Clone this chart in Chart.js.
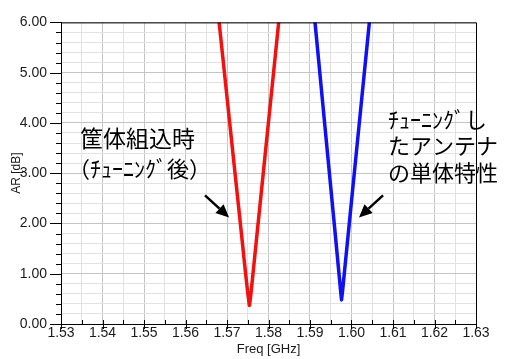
<!DOCTYPE html>
<html>
<head>
<meta charset="utf-8">
<script src="https://cdn.jsdelivr.net/npm/chart.js@4.4.1/dist/chart.umd.min.js"></script>
<style>
html,body{margin:0;padding:0;background:#fff;}
#wrap{width:525px;height:359px;position:relative;}
</style>
</head>
<body>
<div id="wrap"><canvas id="c" width="525" height="359"></canvas></div>
<script>
// ---- data ----
const redFreq = [1.5675, 1.5690, 1.5705, 1.5720, 1.5735, 1.5745, 1.5750, 1.5753, 1.5754, 1.5757, 1.5762, 1.5772, 1.5787, 1.5802, 1.5817, 1.5832];
const redAR   = [6.47,   5.30,   4.12,   2.95,   1.78,   0.99,   0.62,   0.42,   0.37,   0.55,   0.95,   1.76,   2.97,   4.18,   5.39,   6.60];
const blueFreq = [1.5905, 1.5915, 1.5930, 1.5945, 1.5960, 1.5970, 1.5974, 1.5976, 1.5979, 1.5985, 1.5995, 1.6010, 1.6025, 1.6040, 1.6052];
const blueAR   = [6.60,   5.75,   4.45,   3.15,   1.86,   0.99,   0.64,   0.48,   0.70,   1.20,   2.03,   3.27,   4.51,   5.75,   6.74];
const xTickLabels = ['1.53','1.54','1.55','1.56','1.57','1.58','1.59','1.60','1.61','1.62','1.63'];
const yTickLabels = ['0.00','1.00','2.00','3.00','4.00','5.00','6.00'];
const xTitle = 'Freq [GHz]';
const yTitle = 'AR [dB]';
// annotation texts (data coordinates: freq, AR)
const noteTexts = ['筐体組込時', '（ﾁｭｰﾆﾝｸﾞ後）', 'ﾁｭｰﾆﾝｸﾞし', 'たアンテナ', 'の単体特性'];
const noteX = [1.5346, 1.5317, 1.6088, 1.6088, 1.6088];
const noteY = [3.70, 3.09, 4.06, 3.54, 3.01];
// arrows: tail -> head
const arrowFrom = [[1.5647, 2.56], [1.6076, 2.56]];
const arrowTo   = [[1.5705, 2.12], [1.6018, 2.12]];

const isMajorX = v => Math.abs(v * 100 - Math.round(v * 100)) < 1e-6;
const isMajorY = v => Math.abs(v - Math.round(v)) < 1e-6;

const decorPlugin = {
  id: 'decor',
  afterDraw(chart) {
    const ctx = chart.ctx, a = chart.chartArea;
    const xs = chart.scales.x, ys = chart.scales.y;
    ctx.save();
    // top & right frame
    ctx.strokeStyle = '#000'; ctx.lineWidth = 1;
    ctx.beginPath();
    ctx.moveTo(a.left, a.top + 0.5); ctx.lineTo(a.right + 0.5, a.top + 0.5); ctx.lineTo(a.right + 0.5, a.bottom);
    ctx.stroke();
    // tick marks
    ctx.beginPath();
    xs.ticks.forEach(t => {
      const px = Math.round(xs.getPixelForValue(t.value)) + 0.5;
      if (isMajorX(t.value)) { ctx.moveTo(px, a.bottom - 4); ctx.lineTo(px, a.bottom + 5); }
      else { ctx.moveTo(px, a.bottom - 4); ctx.lineTo(px, a.bottom); }
    });
    ys.ticks.forEach(t => {
      const py = Math.round(ys.getPixelForValue(t.value)) + 0.5;
      if (isMajorY(t.value)) { ctx.moveTo(a.left - 11, py); ctx.lineTo(a.left, py); }
      else { ctx.moveTo(a.left - 5, py); ctx.lineTo(a.left, py); }
    });
    ctx.stroke();
    // annotation texts
    ctx.fillStyle = '#000';
    ctx.textBaseline = 'middle'; ctx.textAlign = 'left';
    noteTexts.forEach((s, i) => {
      ctx.font = (i === 0 ? '23px' : '22px') + ' "Noto Sans CJK JP"';
      ctx.fillText(s, xs.getPixelForValue(noteX[i]), ys.getPixelForValue(noteY[i]));
    });
    // arrows
    arrowFrom.forEach((f, i) => {
      const x1 = xs.getPixelForValue(f[0]), y1 = ys.getPixelForValue(f[1]);
      const x2 = xs.getPixelForValue(arrowTo[i][0]), y2 = ys.getPixelForValue(arrowTo[i][1]);
      const ang = Math.atan2(y2 - y1, x2 - x1);
      const hl = 13, hw = 6;
      const bx = x2 - hl * Math.cos(ang), by = y2 - hl * Math.sin(ang);
      ctx.strokeStyle = '#000'; ctx.lineWidth = 2.5;
      ctx.beginPath(); ctx.moveTo(x1, y1); ctx.lineTo(bx, by); ctx.stroke();
      ctx.beginPath();
      ctx.moveTo(x2, y2);
      ctx.lineTo(bx + hw * Math.sin(ang), by - hw * Math.cos(ang));
      ctx.lineTo(bx - hw * Math.sin(ang), by + hw * Math.cos(ang));
      ctx.closePath(); ctx.fill();
    });
    ctx.restore();
  }
};

new Chart(document.getElementById('c'), {
  type: 'line',
  data: {
    datasets: [
      { data: redFreq.map((f, i) => ({x: f, y: redAR[i]})), borderColor: '#f51010', borderWidth: 3.5, borderJoinStyle: 'round', pointRadius: 0, tension: 0 },
      { data: blueFreq.map((f, i) => ({x: f, y: blueAR[i]})), borderColor: '#1010f5', borderWidth: 3.5, borderJoinStyle: 'round', pointRadius: 0, tension: 0 }
    ]
  },
  options: {
    responsive: false,
    animation: false,
    layout: { padding: { top: 10, right: 49, left: 0, bottom: 0 } },
    plugins: { legend: { display: false }, tooltip: { enabled: false } },
    scales: {
      x: {
        type: 'linear', min: 1.53, max: 1.63,
        afterFit: s => { s.height = 35; },
        ticks: {
          stepSize: 0.005, autoSkip: false, maxRotation: 0, padding: 1,
          color: '#1a1a1a', font: { family: '"Liberation Sans"', size: 14 },
          callback: v => { if (!isMajorX(v)) return ''; const i = Math.round((v - 1.53) * 100); return xTickLabels[i]; }
        },
        grid: { drawTicks: false, color: c => (c.tick && isMajorX(c.tick.value)) ? '#c4c4c4' : '#e2e2e2', lineWidth: 1 },
        border: { color: '#000', width: 1 },
        title: { display: true, text: xTitle, color: '#1a1a1a', font: { family: '"Liberation Sans"', size: 13 }, padding: { top: 0, bottom: 2 } }
      },
      y: {
        min: 0, max: 6,
        afterFit: s => { s.width = 61; },
        ticks: {
          stepSize: 0.2, autoSkip: false, padding: 14,
          color: '#1a1a1a', font: { family: '"Liberation Sans"', size: 14 },
          callback: v => isMajorY(v) ? yTickLabels[Math.round(v)] : ''
        },
        grid: { drawTicks: false, color: c => (c.tick && isMajorY(c.tick.value)) ? '#c4c4c4' : '#e2e2e2', lineWidth: 1 },
        border: { color: '#000', width: 1 },
        title: { display: true, text: yTitle, color: '#1a1a1a', font: { family: '"Liberation Sans"', size: 12 }, padding: { top: 9, bottom: 0 } }
      }
    }
  },
  plugins: [decorPlugin]
});
</script>
</body>
</html>
